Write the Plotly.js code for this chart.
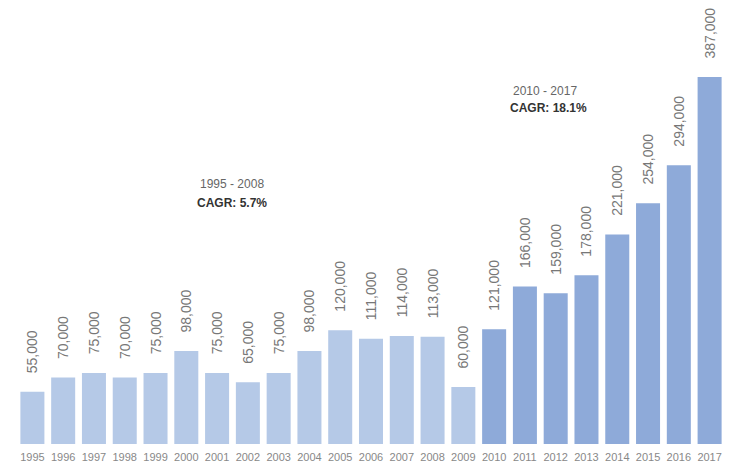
<!DOCTYPE html>
<html>
<head>
<meta charset="utf-8">
<script src="https://cdn.plot.ly/plotly-3.0.1.min.js"></script>
<style>html,body{margin:0;padding:0;background:#fff;}#chart{width:733px;height:468px;}</style>
</head>
<body>
<div id="chart"></div>
<script>
const years = ['1995','1996','1997','1998','1999','2000','2001','2002','2003','2004','2005','2006','2007','2008','2009','2010','2011','2012','2013','2014','2015','2016','2017'];
const values = [55000,70000,75000,70000,75000,98000,75000,65000,75000,98000,120000,111000,114000,113000,60000,121000,166000,159000,178000,221000,254000,294000,387000];
const periodLabels = ['1995 - 2008','2010 - 2017'];
const cagrLabels = ['CAGR: 5.7%','CAGR: 18.1%'];

const lightColor = '#b5c9e7';
const darkColor = '#8eaad9';
const colors = years.map(y => (+y >= 2010 ? darkColor : lightColor));

const trace = {
  type: 'bar',
  x: years,
  y: values,
  marker: {color: colors, line: {width: 0}},
  text: values.map(v => '\u00a0\u00a0\u00a0\u00a0' + v.toLocaleString('en-US')),
  textposition: 'outside',
  textangle: -90,
  constraintext: 'none',
  cliponaxis: false,
  textfont: {family: 'Liberation Sans, Arial, sans-serif', size: 14, color: '#777'},
  hoverinfo: 'none'
};

const annFont = {family: 'Liberation Sans, Arial, sans-serif', size: 12, color: '#666'};
const boldFont = {family: 'Liberation Sans, Arial, sans-serif', size: 12, color: '#333'};
const px = x => (x - 17) / 708;
const py = y => (444 - y) / 440;

const layout = {
  width: 733, height: 468,
  margin: {l: 17, r: 8, t: 4, b: 24},
  paper_bgcolor: '#fff', plot_bgcolor: '#fff',
  bargap: 0.22,
  showlegend: false,
  xaxis: {
    type: 'category', showgrid: false, zeroline: false, showline: false,
    ticks: 'outside', ticklen: 3, tickcolor: 'rgba(0,0,0,0)', tickangle: 0, automargin: false,
    tickfont: {family: 'Liberation Sans, Arial, sans-serif', size: 11, color: '#888'}
  },
  yaxis: {range: [0, 464000], visible: false, showgrid: false, zeroline: false, automargin: false},
  annotations: [
    {xref: 'paper', yref: 'paper', x: px(232), y: py(184), xanchor: 'center', yanchor: 'middle',
     text: periodLabels[0], showarrow: false, font: annFont},
    {xref: 'paper', yref: 'paper', x: px(232), y: py(203), xanchor: 'center', yanchor: 'middle',
     text: '<b>' + cagrLabels[0] + '</b>', showarrow: false, font: boldFont},
    {xref: 'paper', yref: 'paper', x: px(545), y: py(91), xanchor: 'center', yanchor: 'middle',
     text: periodLabels[1], showarrow: false, font: annFont},
    {xref: 'paper', yref: 'paper', x: px(548), y: py(108), xanchor: 'center', yanchor: 'middle',
     text: '<b>' + cagrLabels[1] + '</b>', showarrow: false, font: boldFont}
  ]
};

Plotly.newPlot('chart', [trace], layout, {displayModeBar: false, staticPlot: true});
</script>
</body>
</html>
